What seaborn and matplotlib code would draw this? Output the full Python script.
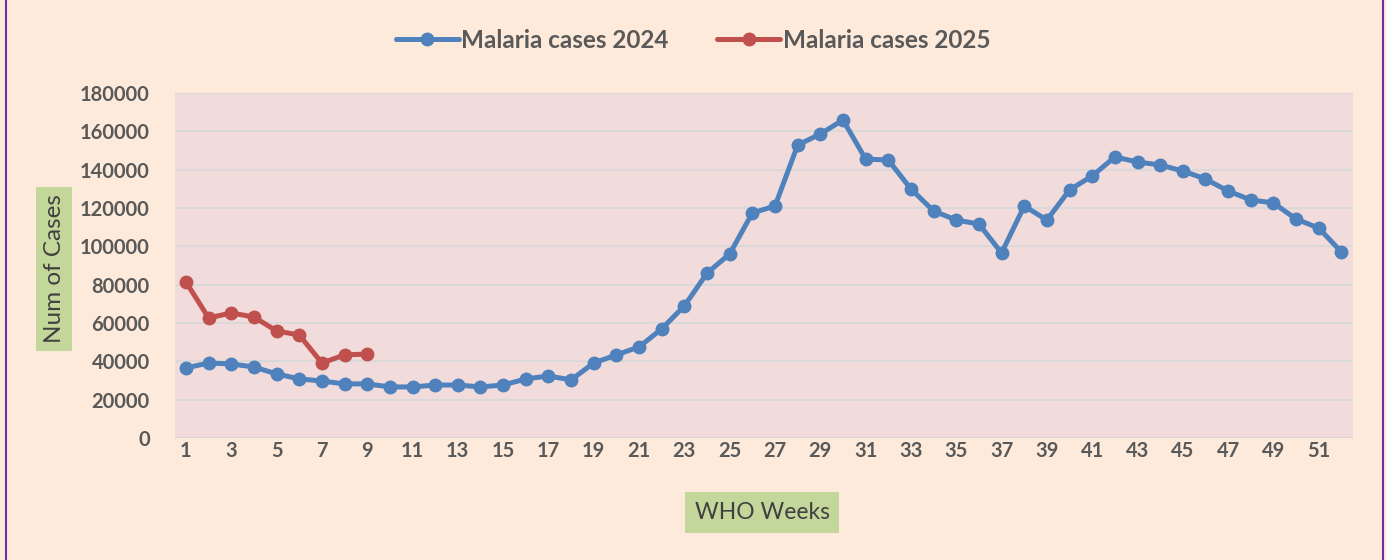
import numpy as np
import pandas as pd
import seaborn as sns
import matplotlib.pyplot as plt
from matplotlib.lines import Line2D

# weekly malaria cases
weeks_2024 = list(range(1, 53))
cases_2024 = [36500, 39100, 38600, 37000, 33400, 30800, 29700, 28200, 28200, 26600,
              26600, 27600, 27600, 26600, 27600, 30800, 32300, 30300, 39100, 43300,
              47500, 56900, 68900, 86000, 96000, 117400, 121000, 152800, 158600, 165900,
              145500, 145000, 129900, 118400, 113700, 111600, 96500, 121000, 113700, 129400,
              136700, 146600, 144000, 142400, 139300, 135100, 128800, 124200, 122600, 114200,
              109500, 97000]
weeks_2025 = list(range(1, 10))
cases_2025 = [81400, 62600, 65200, 63100, 55800, 53700, 39100, 43300, 43800]

series_names = ['Malaria cases 2024', 'Malaria cases 2025']
series_colors = ['#4F81BD', '#C0504D']
y_ticks = list(range(0, 180001, 20000))
x_ticks = list(range(1, 53, 2))

df = pd.concat([
    pd.DataFrame({'week': weeks_2024, 'cases': cases_2024, 'series': series_names[0]}),
    pd.DataFrame({'week': weeks_2025, 'cases': cases_2025, 'series': series_names[1]}),
])

sns.set_theme(style='white')
plt.rcParams['font.family'] = ['Lato', 'DejaVu Sans']

fig = plt.figure(figsize=(13.86, 5.6), dpi=100)
fig.patch.set_facecolor('#FDEADA')
ax = fig.add_axes([0.126, 0.218, 0.850, 0.616])
ax.set_facecolor('#F2DCDB')

sns.lineplot(data=df, x='week', y='cases', hue='series', palette=series_colors,
             marker='o', markersize=10, markeredgewidth=0, linewidth=3.6,
             ax=ax, legend=False)

ax.set_xlim(0.5, 52.5)
ax.set_ylim(0, 180000)
ax.set_yticks(y_ticks)
ax.set_yticklabels([str(v) for v in y_ticks])
ax.set_xticks(x_ticks)
ax.set_xticklabels([str(v) for v in x_ticks])
ax.tick_params(axis='both', length=0, labelsize=14.5, labelcolor='#595959')
ax.tick_params(axis='y', pad=18)
ax.tick_params(axis='x', pad=2)
for lab in ax.get_xticklabels() + ax.get_yticklabels():
    lab.set_fontweight('bold')

ax.grid(axis='y', color='#D9D9D9', linewidth=1.5)
ax.set_axisbelow(True)
for s in ax.spines.values():
    s.set_visible(False)

ax.set_xlabel('')
ax.set_ylabel('')
fig.text(0.550, 0.085, 'WHO Weeks', ha='center', va='center', fontsize=16.5, color='#404040',
         bbox=dict(boxstyle='square,pad=0.42', facecolor='#C4D79B', edgecolor='none'))
fig.text(0.039, 0.52, 'Num of Cases', ha='center', va='center', rotation=90, fontsize=17.5,
         color='#404040',
         bbox=dict(boxstyle='square,pad=0.32', facecolor='#C4D79B', edgecolor='none'))

handles = [Line2D([], [], color=c, marker='o', markersize=10, markeredgewidth=0, linewidth=3.6)
           for c in series_colors]
leg = fig.legend(handles, series_names, loc='center', bbox_to_anchor=(0.5, 0.928), ncol=2,
                 frameon=False, handlelength=2.6, handletextpad=0.1, columnspacing=2.0,
                 prop={'size': 17.5, 'weight': 'bold'})
for t in leg.get_texts():
    t.set_color('#595959')

# purple frame edges
fig.add_artist(Line2D([0.004, 0.004], [0, 1], color='#7030A0', linewidth=1.5, transform=fig.transFigure))
fig.add_artist(Line2D([0.998, 0.998], [0, 1], color='#7030A0', linewidth=1.5, transform=fig.transFigure))

fig.savefig('out.png', dpi=100, facecolor=fig.get_facecolor())
